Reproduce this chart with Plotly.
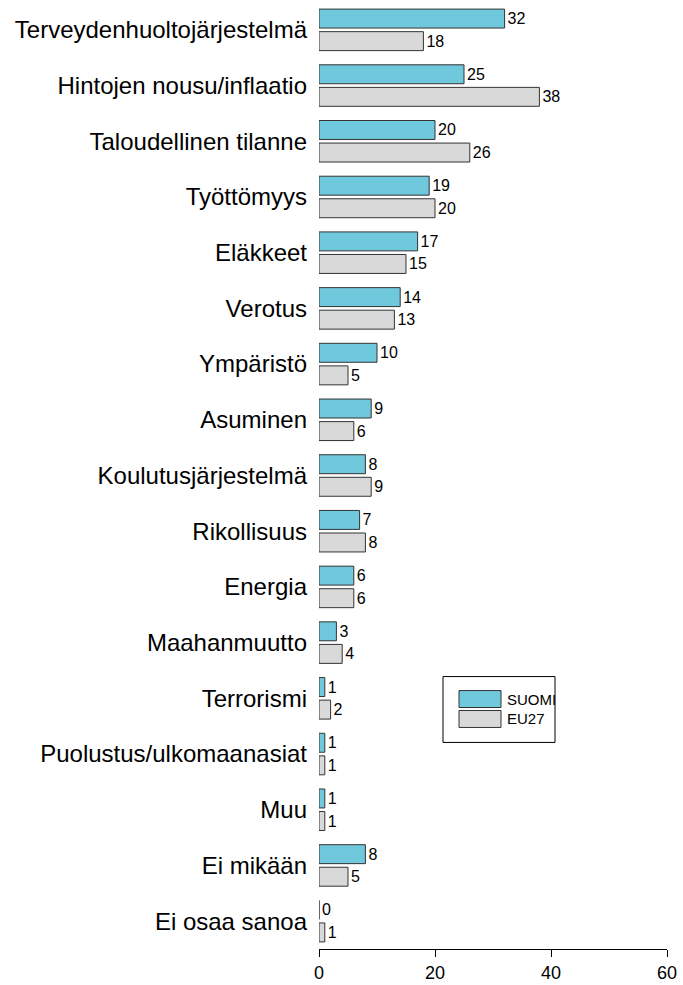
import plotly.graph_objects as go

categories = ["Terveydenhuoltojärjestelmä", "Hintojen nousu/inflaatio", "Taloudellinen tilanne",
              "Työttömyys", "Eläkkeet", "Verotus", "Ympäristö", "Asuminen",
              "Koulutusjärjestelmä", "Rikollisuus", "Energia", "Maahanmuutto",
              "Terrorismi", "Puolustus/ulkomaanasiat", "Muu", "Ei mikään", "Ei osaa sanoa"]
suomi = [32, 25, 20, 19, 17, 14, 10, 9, 8, 7, 6, 3, 1, 1, 1, 8, 0]
eu27 = [18, 38, 26, 20, 15, 13, 5, 6, 9, 8, 6, 4, 2, 1, 1, 5, 1]
series_names = ["SUOMI", "EU27"]
x_ticks = [0, 20, 40, 60]

c_suomi = "#70C8DD"
c_eu = "#D9D9D9"
line_c = "#333333"
font = "Liberation Sans, Arial, sans-serif"

W, H = 683, 985
ML, MR, MT, MB = 319, 16, 2, 34

fig = go.Figure()
for name, vals, col in [(series_names[0], suomi, c_suomi), (series_names[1], eu27, c_eu)]:
    fig.add_trace(go.Bar(
        y=categories, x=vals, name=name, orientation="h",
        marker=dict(color=col, line=dict(color=line_c, width=1)),
        text=[str(v) for v in vals], textposition="outside", constraintext="none",
        textfont=dict(size=16, color="#000000", family=font),
        cliponaxis=False, showlegend=False,
    ))

fig.update_layout(
    width=W, height=H,
    margin=dict(l=ML, r=MR, t=MT, b=MB),
    paper_bgcolor="white", plot_bgcolor="white",
    barmode="group", bargap=0.19, bargroupgap=0.16,
    font=dict(family=font, color="#000000"),
    showlegend=False,
    xaxis=dict(range=[0, 60], tickvals=x_ticks, showgrid=False, zeroline=False,
               showline=True, linecolor="#000000", linewidth=1,
               ticks="outside", ticklen=7, tickcolor="#000000",
               tickfont=dict(size=18, family=font)),
    yaxis=dict(categoryorder="array", categoryarray=categories, autorange="reversed",
               showgrid=False, zeroline=False, showline=False, ticks="",
               ticklabelstandoff=11, tickfont=dict(size=24, family=font)),
)

# Legend box (custom, to get wide swatches as in reference)
lx0, lx1, ly0, ly1 = 443, 555, 678, 744
def px(x):
    return (x - ML) / (W - ML - MR)
def py(y):
    return 1 - (y - MT) / (H - MT - MB)
fig.add_shape(type="rect", xref="paper", yref="paper", x0=px(lx0), x1=px(lx1), y0=py(ly1), y1=py(ly0),
              line=dict(color="#000000", width=1), fillcolor="white")
for i, (name, col) in enumerate([(series_names[0], c_suomi), (series_names[1], c_eu)]):
    top = 692 + i * 20
    fig.add_shape(type="rect", xref="paper", yref="paper", x0=px(459), x1=px(501),
                  y0=py(top + 17), y1=py(top), line=dict(color=line_c, width=1), fillcolor=col)
    fig.add_annotation(xref="paper", yref="paper", x=px(505), y=py(top + 8.5), text=name,
                       showarrow=False, xanchor="left", yanchor="middle",
                       font=dict(size=15, family=font, color="#000000"))

fig.write_html("out.html", config={"displayModeBar": False},
               post_script="document.body.style.margin='0';")
